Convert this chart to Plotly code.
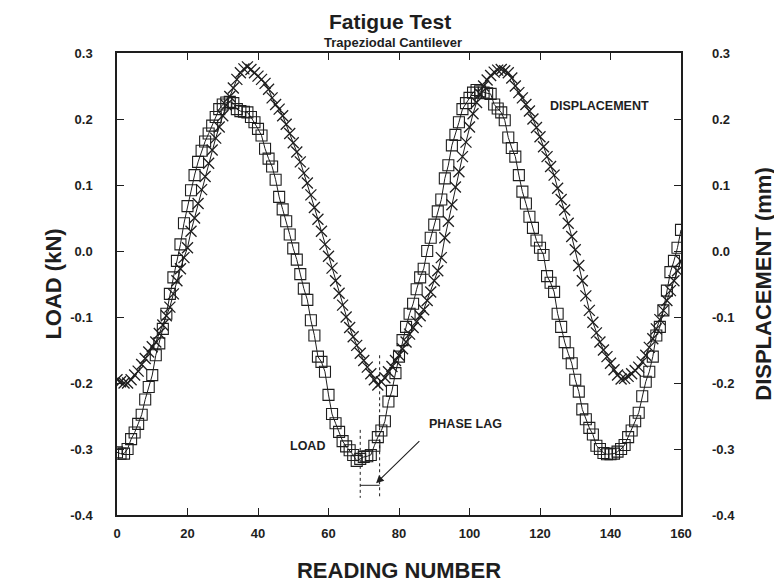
import plotly.graph_objects as go

# Reading numbers
reading = list(range(0, 161))

# Load (kN), one value per reading
load = [
    -0.305, -0.307, -0.307, -0.300, -0.285, -0.275, -0.262, -0.248, -0.225, -0.206,
    -0.188, -0.158, -0.140, -0.118, -0.095, -0.065, -0.040, -0.015, 0.010, 0.042,
    0.068, 0.092, 0.115, 0.135, 0.152, 0.166, 0.178, 0.190, 0.203, 0.215,
    0.222, 0.225, 0.226, 0.224, 0.215, 0.212, 0.211, 0.210, 0.203, 0.195,
    0.185, 0.175, 0.155, 0.140, 0.128, 0.108, 0.082, 0.063, 0.045, 0.025,
    0.004, -0.013, -0.035, -0.057, -0.074, -0.105, -0.128, -0.160, -0.168, -0.183,
    -0.218, -0.247, -0.261, -0.274, -0.288, -0.296, -0.302, -0.309, -0.318, -0.315,
    -0.312, -0.311, -0.309, -0.295, -0.282, -0.272, -0.258, -0.228, -0.212, -0.185,
    -0.160, -0.135, -0.115, -0.095, -0.080, -0.058, -0.040, -0.027, 0.000, 0.020,
    0.040, 0.060, 0.078, 0.110, 0.130, 0.160, 0.176, 0.195, 0.215, 0.224,
    0.232, 0.240, 0.244, 0.242, 0.240, 0.239, 0.238, 0.222, 0.216, 0.210,
    0.198, 0.172, 0.156, 0.143, 0.115, 0.090, 0.072, 0.052, 0.035, 0.016,
    0.005, -0.006, -0.038, -0.048, -0.062, -0.095, -0.115, -0.138, -0.155, -0.170,
    -0.195, -0.213, -0.240, -0.255, -0.268, -0.278, -0.295, -0.300, -0.306, -0.308,
    -0.308, -0.307, -0.304, -0.300, -0.294, -0.282, -0.272, -0.258, -0.245, -0.220,
    -0.198, -0.183, -0.160, -0.128, -0.115, -0.090, -0.060, -0.032, -0.015, 0.005,
    0.032,
]

# Displacement (mm), one value per reading
displacement = [
    -0.195, -0.198, -0.200, -0.200, -0.195, -0.188, -0.182, -0.172, -0.163, -0.153,
    -0.145, -0.138, -0.125, -0.112, -0.098, -0.085, -0.065, -0.045, -0.027, -0.010,
    0.005, 0.030, 0.050, 0.072, 0.093, 0.113, 0.133, 0.153, 0.171, 0.188,
    0.205, 0.221, 0.234, 0.247, 0.260, 0.270, 0.276, 0.279, 0.275, 0.270,
    0.265, 0.260, 0.254, 0.245, 0.232, 0.222, 0.215, 0.205, 0.192, 0.178,
    0.164, 0.150, 0.135, 0.118, 0.103, 0.085, 0.066, 0.048, 0.030, 0.010,
    -0.008, -0.026, -0.045, -0.064, -0.082, -0.100, -0.116, -0.130, -0.143, -0.155,
    -0.166, -0.176, -0.186, -0.195, -0.203, -0.198, -0.192, -0.183, -0.175, -0.166,
    -0.158, -0.148, -0.138, -0.126, -0.116, -0.107, -0.098, -0.089, -0.075, -0.062,
    -0.045, -0.030, -0.010, 0.020, 0.045, 0.070, 0.097, 0.120, 0.143, 0.165,
    0.188, 0.208, 0.225, 0.238, 0.250, 0.259, 0.266, 0.271, 0.274, 0.275,
    0.273, 0.270, 0.262, 0.250, 0.240, 0.232, 0.222, 0.212, 0.200, 0.187,
    0.173, 0.158, 0.143, 0.128, 0.115, 0.095, 0.078, 0.062, 0.042, 0.022,
    0.002, -0.022, -0.045, -0.068, -0.090, -0.108, -0.124, -0.138, -0.150, -0.160,
    -0.170, -0.180, -0.188, -0.194, -0.193, -0.190, -0.186, -0.181, -0.176, -0.168,
    -0.158, -0.146, -0.133, -0.118, -0.104, -0.090, -0.075, -0.060, -0.045, -0.030,
    -0.015,
]

x_ticks = [0, 20, 40, 60, 80, 100, 120, 140, 160]
y_ticks = [-0.4, -0.3, -0.2, -0.1, 0.0, 0.1, 0.2, 0.3]
y_tick_labels = ["-0.4", "-0.3", "-0.2", "-0.1", "0.0", "0.1", "0.2", "0.3"]

# Phase-lag markers (reading numbers of the load and displacement minima)
lag_readings = [69, 74.5]
lag_top = [-0.271, -0.158]
lag_bottom = -0.374
lag_bar = -0.355
arrow_tail = (86.2, -0.286)
arrow_head = (73.5, -0.352)

INK = "#1e1e1e"
FONT = "Liberation Sans, Arial, Helvetica, sans-serif"

fig = go.Figure()
fig.add_trace(go.Scatter(
    x=reading, y=load, mode="lines+markers", name="LOAD",
    line=dict(color=INK, width=1),
    marker=dict(symbol="square-open", size=11, color=INK, line=dict(width=1.1, color=INK)),
    yaxis="y",
))
fig.add_trace(go.Scatter(
    x=reading, y=displacement, mode="lines+markers", name="DISPLACEMENT",
    line=dict(color=INK, width=1),
    marker=dict(symbol="x-thin", size=11, color=INK, line=dict(width=1.3, color=INK)),
    yaxis="y2",
))

# Phase-lag dotted guides and bracket
for xr, yt in zip(lag_readings, lag_top):
    fig.add_shape(type="line", xref="x", yref="y", x0=xr, x1=xr, y0=yt, y1=lag_bottom,
                  line=dict(color=INK, width=1, dash="dot"))
fig.add_shape(type="line", xref="x", yref="y", x0=lag_readings[0], x1=lag_readings[1],
              y0=lag_bar, y1=lag_bar, line=dict(color=INK, width=1))

tick_font = dict(family=FONT, size=13, color=INK, weight="bold")
title_font = dict(family=FONT, size=22, color=INK, weight="bold")
axis_common = dict(
    showline=True, linecolor=INK, linewidth=1.5, mirror="ticks",
    ticks="inside", ticklen=7, tickwidth=1.2, tickcolor=INK,
    showgrid=False, zeroline=False, tickfont=tick_font, automargin=False,
)

# The page body adds an 8px offset, so the figure is 8px smaller than the window.
fig.update_layout(
    width=774, height=576,
    margin=dict(l=108.5, r=101, t=45, b=69),
    paper_bgcolor="white", plot_bgcolor="white",
    showlegend=False,
    xaxis=dict(range=[0, 160], tickvals=x_ticks, ticklabelstandoff=6,
               title=dict(text="READING NUMBER", font=title_font, standoff=22),
               **axis_common),
    yaxis=dict(range=[-0.4, 0.3], tickvals=y_ticks, ticktext=y_tick_labels, ticklabelstandoff=20,
               title=dict(text="LOAD (kN)", font=title_font, standoff=3),
               **axis_common),
    yaxis2=dict(range=[-0.4, 0.3], tickvals=y_ticks, ticktext=y_tick_labels, overlaying="y", side="right",
                ticklabelstandoff=30, automargin=False,
                title=dict(text="DISPLACEMENT (mm)", font=title_font, standoff=21),
                showline=False, ticks="inside", ticklen=7, tickwidth=1.2, tickcolor=INK,
                showgrid=False, zeroline=False, tickfont=tick_font),
    annotations=[
        dict(text="<b>Fatigue Test</b>", xref="paper", yref="paper", x=0.484, y=1.0,
             yanchor="middle", yshift=32, showarrow=False, font=dict(family=FONT, size=21, color=INK)),
        dict(text="<b>Trapeziodal Cantilever</b>", xref="paper", yref="paper", x=0.489, y=1.0,
             yanchor="middle", yshift=11, showarrow=False, font=dict(family=FONT, size=13, color=INK)),
        dict(text="<b>DISPLACEMENT</b>", x=137, y=0.219, xref="x", yref="y", showarrow=False,
             font=dict(family=FONT, size=12.5, color=INK)),
        dict(text="<b>LOAD</b>", x=54, y=-0.296, xref="x", yref="y", showarrow=False,
             font=dict(family=FONT, size=12.5, color=INK)),
        dict(text="<b>PHASE LAG</b>", x=99, y=-0.262, xref="x", yref="y", showarrow=False,
             font=dict(family=FONT, size=12.5, color=INK)),
        dict(text="", x=arrow_head[0], y=arrow_head[1], ax=arrow_tail[0], ay=arrow_tail[1],
             xref="x", yref="y", axref="x", ayref="y", showarrow=True,
             arrowhead=2, arrowsize=1.4, arrowwidth=1.1, arrowcolor=INK),
    ],
)

fig.write_html("out.html")
